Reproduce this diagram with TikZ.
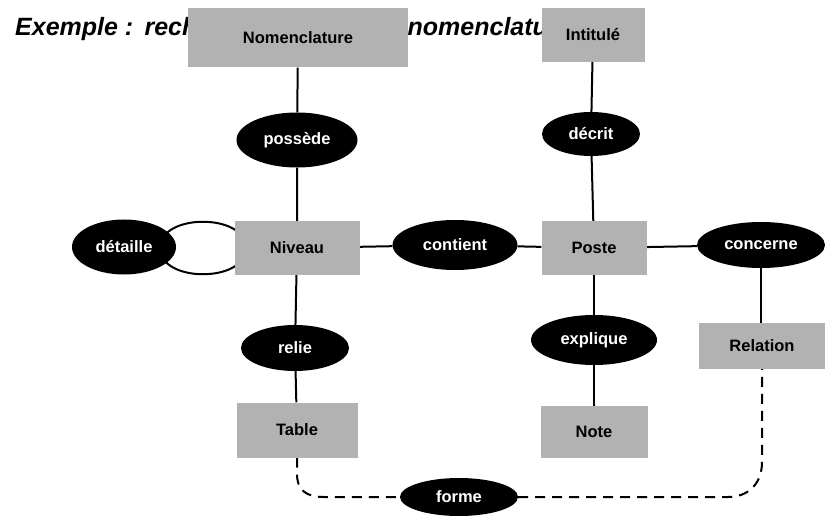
\documentclass[tikz,border=0pt]{standalone}
\usepackage{fontspec}
\setmainfont{Liberation Sans}
\usetikzlibrary{shapes.geometric,backgrounds}

\tikzset{
  entity/.style={rectangle, fill=black!30, draw=none, inner sep=0pt,
    font=\fontsize{16.5}{18}\selectfont\bfseries, text=black},
  assoc/.style={ellipse, fill=black, draw=none, inner sep=0pt,
    font=\fontsize{16.5}{18}\selectfont\bfseries, text=white},
  conn/.style={draw=black, line width=2pt},
  optconn/.style={draw=black, line width=2pt, dash pattern=on 10pt off 7pt},
}

\begin{document}
\begin{tikzpicture}[x=1pt, y=-1pt]
  \useasboundingbox (0,0) rectangle (828,516);

  % title, partly covered by the entity boxes
  \node[anchor=base west, inner sep=0pt, font=\fontsize{25}{30}\selectfont\bfseries\itshape]
    (title) at (15,36) {Exemple :\hspace{2pt} recherche dans une\hspace{20pt} nomenclature};

  % entities
  \node[entity, minimum width=220pt, minimum height=59pt] (nom) at (298,38) {Nomenclature};
  \node[entity, minimum width=103pt, minimum height=54pt] (intit) at (593,35) {Intitulé};
  \node[entity, minimum width=125pt, minimum height=53pt] (niv) at (297,248) {Niveau};
  \node[entity, minimum width=105pt, minimum height=53pt] (poste) at (594,248) {Poste};
  \node[entity, minimum width=126pt, minimum height=46pt] (rel) at (762,346) {Relation};
  \node[entity, minimum width=121pt, minimum height=55pt] (tab) at (297,430) {Table};
  \node[entity, minimum width=107pt, minimum height=52pt] (note) at (594,432) {Note};

  % associations
  \node[assoc, minimum width=121pt, minimum height=55pt] (poss) at (297,140) {possède};
  \node[assoc, minimum width=98pt, minimum height=44pt] (decr) at (591,134) {décrit};
  \node[assoc, minimum width=104pt, minimum height=55pt] (det) at (124,247) {détaille};
  \node[assoc, minimum width=125pt, minimum height=50pt] (cont) at (455,245) {contient};
  \node[assoc, minimum width=128pt, minimum height=46pt] (conc) at (761,245) {concerne};
  \node[assoc, minimum width=108pt, minimum height=46pt] (relie) at (295,348) {relie};
  \node[assoc, minimum width=126pt, minimum height=50pt] (expl) at (594,340) {explique};
  \node[assoc, minimum width=118pt, minimum height=38pt] (forme) at (459,497) {forme};

  % reflexive loop of "détaille"
  \coordinate (loopL) at (160,248);
  \coordinate (loopR) at (246,248);

  % dashed route of "forme"
  \coordinate (fl1) at (297,474);
  \coordinate (fl2) at (324,497);
  \coordinate (fr1) at (728,497);
  \coordinate (fr2) at (762,462);

  \begin{scope}[on background layer]
    \draw[conn] (nom) -- (poss) -- (niv);
    \draw[conn] (niv) -- (relie) -- (tab);
    \draw[conn] (niv) -- (cont) -- (poste);
    \draw[conn] (intit) -- (decr) -- (poste);
    \draw[conn] (poste) -- (expl) -- (note);
    \draw[conn] (poste) -- (conc);
    \draw[conn] (conc.center) -- (conc.center |- rel.north);
    \draw[conn] (loopL) .. controls (160,213) and (246,213) .. (loopR)
                        .. controls (246,283) and (160,283) .. (loopL);
    \draw[optconn] (tab.south) -- (fl1) .. controls (297,490) and (306,497) .. (fl2) -- (forme.west);
    \draw[optconn] (forme.east) -- (fr1) .. controls (748,497) and (762,484) .. (fr2) -- (rel.south);
  \end{scope}
\end{tikzpicture}
\end{document}
